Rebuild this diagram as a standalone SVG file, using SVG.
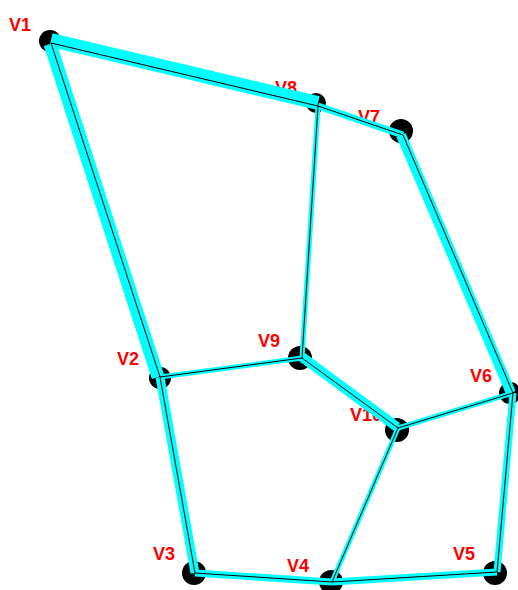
<svg xmlns="http://www.w3.org/2000/svg" width="518" height="590" viewBox="0 0 518 590">
<style>
.lbl{font-family:"Liberation Sans",Arial,sans-serif;font-weight:bold;font-size:18px;fill:#ff0000}
.dot{fill:#000}
.band{stroke:#00ffff;stroke-linecap:butt;fill:none}
.core{stroke:#000;stroke-width:1;fill:none}
</style>
<rect width="518" height="590" fill="#fff"/>
<g id="V1"><text class="lbl" x="9" y="31">V1</text><circle class="dot" cx="50" cy="41" r="11"/></g>
<g id="V2"><text class="lbl" x="117" y="365">V2</text><circle class="dot" cx="160" cy="378" r="11"/></g>
<g id="V3"><text class="lbl" x="153" y="560">V3</text><circle class="dot" cx="194" cy="573" r="12"/></g>
<g id="V4"><text class="lbl" x="287" y="572">V4</text><circle class="dot" cx="331" cy="582" r="12"/></g>
<g id="V5"><text class="lbl" x="453" y="560">V5</text><circle class="dot" cx="495" cy="573" r="12"/></g>
<g id="V6"><text class="lbl" x="470" y="382">V6</text><circle class="dot" cx="510" cy="393" r="11"/></g>
<g id="V7"><text class="lbl" x="358" y="123">V7</text><circle class="dot" cx="401" cy="131" r="12"/></g>
<g id="V8"><text class="lbl" x="275" y="94">V8</text><circle class="dot" cx="316" cy="103" r="10"/></g>
<g id="V9"><text class="lbl" x="258" y="347">V9</text><circle class="dot" cx="300" cy="358" r="12"/></g>
<g id="V10"><text class="lbl" x="350" y="421">V10</text><circle class="dot" cx="397" cy="430" r="12"/></g>
<g id="connectors">
<line class="band" stroke-width="14" x1="51" y1="40" x2="318" y2="103"/>
<line class="band" stroke-width="13" x1="50" y1="44" x2="158" y2="377"/>
<line class="band" stroke-width="7" x1="318" y1="106" x2="403" y2="135"/>
<line class="band" stroke-width="10" x1="401" y1="135" x2="511" y2="393"/>
<line class="band" stroke-width="5" x1="318" y1="106" x2="302" y2="358"/>
<line class="band" stroke-width="5" x1="160" y1="377" x2="302" y2="358"/>
<line class="band" stroke-width="10" x1="302" y1="357" x2="397" y2="427"/>
<line class="band" stroke-width="5" x1="398" y1="428" x2="513" y2="393"/>
<line class="band" stroke-width="5" x1="398" y1="428" x2="332" y2="582"/>
<line class="band" stroke-width="7" x1="513" y1="393" x2="497" y2="572"/>
<line class="band" stroke-width="9" x1="160" y1="377" x2="195" y2="573"/>
<line class="band" stroke-width="7" x1="195" y1="573" x2="332" y2="582"/>
<line class="band" stroke-width="7" x1="332" y1="582" x2="497" y2="572"/>
<path class="core" d="M51 43L318 106L403 135L513 393L497 572L332 582L195 573L160 377L51 43M318 106L302 358L160 377M302 358L398 428L513 393M398 428L332 582"/>
</g>
</svg>
